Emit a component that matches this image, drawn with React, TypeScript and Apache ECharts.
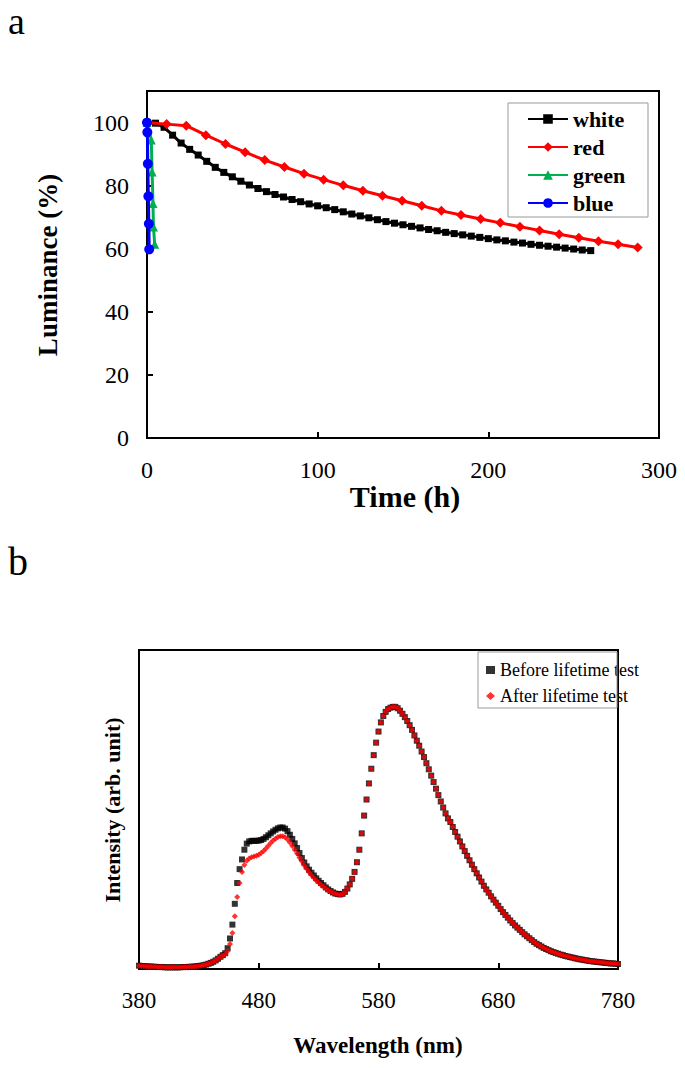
import React, { useEffect, useRef } from "react";
import * as echarts from "echarts";

// ---------- Panel a: luminance decay ----------
const whiteTime = [0, 5, 10, 15, 20, 25, 30, 35, 40, 45, 50, 55, 60, 65, 70, 75, 80, 85, 90, 95, 100, 105, 110, 115, 120, 125, 130, 135, 140, 145, 150, 155, 160, 165, 170, 175, 180, 185, 190, 195, 200, 205, 210, 215, 220, 225, 230, 235, 240, 245, 250, 255, 260];
const whiteLum = [100, 99.8, 98.5, 96, 93.5, 91.5, 89.7, 87.7, 85.8, 84.2, 82.8, 81.4, 80.2, 79.1, 78.1, 77.2, 76.4, 75.6, 74.9, 74.2, 73.6, 73.0, 72.4, 71.7, 71.0, 70.4, 69.8, 69.2, 68.6, 68.1, 67.6, 67.1, 66.6, 66.1, 65.7, 65.2, 64.8, 64.4, 64.0, 63.6, 63.2, 62.8, 62.5, 62.1, 61.8, 61.4, 61.1, 60.8, 60.5, 60.2, 59.9, 59.6, 59.4];
const redTime = [0, 11.5, 23, 34.5, 46, 57.5, 69, 80.5, 92, 103.5, 115, 126.5, 138, 149.5, 161, 172.5, 184, 195.5, 207, 218.5, 230, 241.5, 253, 264.5, 276, 287.5];
const redLum = [100, 99.5, 99.0, 96.0, 93.2, 90.6, 88.1, 85.9, 83.8, 81.9, 80.1, 78.4, 76.8, 75.2, 73.6, 72.0, 70.7, 69.4, 68.2, 67.0, 65.8, 64.6, 63.5, 62.4, 61.4, 60.4];
const greenTime = [0, 2.5, 3, 3.5, 3.8, 4.5];
const greenLum = [100, 94.5, 84.3, 74.3, 66.9, 61.4];
const blueTime = [0, 0.2, 0.5, 0.8, 1.1, 1.3];
const blueLum = [100, 96.9, 86.9, 76.6, 67.9, 59.8];
const seriesNamesA = ["white", "red", "green", "blue"];

// ---------- Panel b: EL spectra ----------
const wlStart = 380;
const wlStep = 2;
const beforeIntensity = [
  0.012, 0.011, 0.010, 0.010, 0.009, 0.009, 0.008, 0.008, 0.007, 0.007,
  0.007, 0.006, 0.006, 0.006, 0.006, 0.006, 0.006, 0.006, 0.007, 0.007,
  0.007, 0.008, 0.008, 0.009, 0.010, 0.011, 0.012, 0.014, 0.016, 0.019,
  0.022, 0.026, 0.031, 0.037, 0.044, 0.05, 0.057, 0.075, 0.11, 0.16,
  0.235, 0.31, 0.36, 0.395, 0.43, 0.452, 0.46, 0.462, 0.462, 0.462,
  0.463, 0.465, 0.469, 0.475, 0.482, 0.489, 0.496, 0.502, 0.507, 0.51,
  0.51, 0.506, 0.497, 0.484, 0.469, 0.453, 0.436, 0.418, 0.4, 0.384,
  0.37, 0.358, 0.347, 0.337, 0.327, 0.318, 0.31, 0.302, 0.294, 0.287,
  0.281, 0.276, 0.272, 0.27, 0.269, 0.271, 0.278, 0.29, 0.305, 0.325,
  0.35, 0.385, 0.43, 0.489, 0.553, 0.611, 0.669, 0.722, 0.771, 0.816,
  0.856, 0.889, 0.912, 0.927, 0.937, 0.942, 0.945, 0.945, 0.94, 0.931,
  0.92, 0.908, 0.894, 0.879, 0.862, 0.842, 0.823, 0.805, 0.784, 0.764,
  0.742, 0.72, 0.697, 0.674, 0.65, 0.627, 0.604, 0.582, 0.561, 0.543,
  0.53, 0.512, 0.494, 0.477, 0.46, 0.442, 0.425, 0.408, 0.392, 0.376,
  0.36, 0.345, 0.33, 0.315, 0.3, 0.287, 0.275, 0.262, 0.25, 0.239,
  0.228, 0.216, 0.205, 0.195, 0.185, 0.175, 0.166, 0.157, 0.149, 0.141,
  0.133, 0.125, 0.118, 0.111, 0.104, 0.097, 0.091, 0.086, 0.081, 0.076,
  0.072, 0.068, 0.064, 0.061, 0.058, 0.055, 0.052, 0.05, 0.047, 0.045,
  0.043, 0.041, 0.039, 0.037, 0.035, 0.034, 0.032, 0.031, 0.029, 0.028,
  0.027, 0.026, 0.025, 0.024, 0.023, 0.022, 0.021, 0.02, 0.02, 0.019, 0.018,
];
// after-test values where they differ from the before-test curve (450–550 nm)
const afterIntensityMid = [
  0.048, 0.053, 0.065, 0.09, 0.13, 0.19, 0.26, 0.31, 0.35, 0.375,
  0.39, 0.398, 0.403, 0.406, 0.408, 0.412, 0.418, 0.425, 0.434, 0.444,
  0.454, 0.463, 0.47, 0.476, 0.479, 0.479, 0.475, 0.467, 0.456, 0.443,
  0.43, 0.416, 0.402, 0.388, 0.374, 0.361, 0.349, 0.339, 0.329, 0.32,
  0.312, 0.304, 0.297, 0.29, 0.284, 0.279, 0.275, 0.271, 0.269, 0.268,
  0.27,
];
const afterIntensity = [
  ...beforeIntensity.slice(0, 35),
  ...afterIntensityMid,
  ...beforeIntensity.slice(86),
];
const wavelengths = beforeIntensity.map((_, i) => wlStart + i * wlStep);
const seriesNamesB = ["Before lifetime test", "After lifetime test"];

const FONT = "'Liberation Serif', 'Times New Roman', serif";

export default function App() {
  const ref = useRef<HTMLDivElement>(null);
  useEffect(() => {
    if (!ref.current) return;
    const chart = echarts.init(ref.current, undefined, { renderer: "svg" });
    const axisLineStyle = { color: "#000", width: 2 };
    const option: any = {
      animation: false,
      backgroundColor: "#fff",
      textStyle: { fontFamily: FONT, color: "#000" },
      grid: [
        { left: 147, top: 91, width: 512, height: 347, show: true, borderColor: "#000", borderWidth: 2, backgroundColor: "transparent" },
        { left: 139, top: 650, width: 479, height: 319, show: true, borderColor: "#000", borderWidth: 2, backgroundColor: "transparent" },
      ],
      xAxis: [
        {
          gridIndex: 0, type: "value", min: 0, max: 300, interval: 100,
          axisLine: { lineStyle: axisLineStyle },
          axisTick: { inside: true, length: 6, lineStyle: axisLineStyle },
          axisLabel: { color: "#000", fontSize: 24, margin: 20, fontFamily: FONT },
          splitLine: { show: false },
        },
        {
          gridIndex: 1, type: "value", min: 380, max: 780, interval: 100,
          axisLine: { lineStyle: axisLineStyle },
          axisTick: { inside: true, length: 6, lineStyle: axisLineStyle },
          axisLabel: { color: "#000", fontSize: 23, margin: 20, fontFamily: FONT },
          splitLine: { show: false },
        },
      ],
      yAxis: [
        {
          gridIndex: 0, type: "value", min: 0, max: 110, interval: 20,
          axisLine: { show: true, lineStyle: axisLineStyle },
          axisTick: { show: true, inside: true, length: 6, lineStyle: axisLineStyle },
          axisLabel: { color: "#000", fontSize: 24, margin: 18, fontFamily: FONT, formatter: (v: number) => (v > 100 ? "" : String(v)) },
          splitLine: { show: false },
        },
        {
          gridIndex: 1, type: "value", min: 0, max: 1.15,
          axisLine: { show: true, lineStyle: axisLineStyle },
          axisTick: { show: false },
          axisLabel: { show: false },
          splitLine: { show: false },
        },
      ],
      legend: [
        {
          data: seriesNamesA, orient: "vertical", left: 508, top: 103,
          padding: [5, 10, 4, 19], itemWidth: 40, itemHeight: 12, itemGap: 6,
          textStyle: { fontFamily: FONT, fontSize: 22, fontWeight: "bold", color: "#000", lineHeight: 22 },
        },
        {
          data: seriesNamesB, orient: "vertical", left: 480, top: 654,
          padding: [6, 6, 6, 6], itemWidth: 9, itemHeight: 8, itemGap: 6,
          textStyle: { fontFamily: FONT, fontSize: 18, color: "#000", lineHeight: 20 },
        },
      ],
      graphic: [
        { type: "text", x: 8, y: 21, style: { text: "a", font: `38px ${FONT}`, fill: "#000", verticalAlign: "middle", lineHeight: 38 } },
        { type: "text", x: 8, y: 561, style: { text: "b", font: `40px ${FONT}`, fill: "#000", verticalAlign: "middle", lineHeight: 40 } },
        { type: "rect", shape: { x: 508, y: 103, width: 140, height: 114 }, style: { fill: "none", stroke: "#999", lineWidth: 1 }, z: 100 },
        { type: "rect", shape: { x: 478, y: 652, width: 139, height: 56 }, style: { fill: "none", stroke: "#999", lineWidth: 1 }, z: 100 },
        { type: "text", x: 48, y: 265, rotation: Math.PI / 2, style: { text: "Luminance (%)", font: `bold 27px ${FONT}`, fill: "#000", align: "center", verticalAlign: "middle" } },
        { type: "text", x: 405, y: 496, style: { text: "Time (h)", font: `bold 30px ${FONT}`, fill: "#000", align: "center", verticalAlign: "middle" } },
        { type: "text", x: 112, y: 810, rotation: Math.PI / 2, style: { text: "Intensity (arb. unit)", font: `bold 22px ${FONT}`, fill: "#000", align: "center", verticalAlign: "middle" } },
        { type: "text", x: 378, y: 1045, style: { text: "Wavelength (nm)", font: `bold 23px ${FONT}`, fill: "#000", align: "center", verticalAlign: "middle" } },
      ],
      series: [
        {
          name: "white", type: "line", xAxisIndex: 0, yAxisIndex: 0,
          data: whiteTime.map((t, i) => [t, whiteLum[i]]),
          symbol: "rect", symbolSize: 7, showSymbol: true,
          lineStyle: { color: "#000", width: 3 }, itemStyle: { color: "#000" }, z: 2,
        },
        {
          name: "red", type: "line", xAxisIndex: 0, yAxisIndex: 0,
          data: redTime.map((t, i) => [t, redLum[i]]),
          symbol: "diamond", symbolSize: 10, showSymbol: true,
          lineStyle: { color: "#ff0000", width: 3 }, itemStyle: { color: "#ff0000" }, z: 3,
        },
        {
          name: "green", type: "line", xAxisIndex: 0, yAxisIndex: 0,
          data: greenTime.map((t, i) => [t, greenLum[i]]),
          symbol: "triangle", symbolSize: 9, showSymbol: true,
          lineStyle: { color: "#00b050", width: 3 }, itemStyle: { color: "#00b050" }, z: 4,
        },
        {
          name: "blue", type: "line", xAxisIndex: 0, yAxisIndex: 0,
          data: blueTime.map((t, i) => [t, blueLum[i]]),
          symbol: "circle", symbolSize: 10, showSymbol: true,
          lineStyle: { color: "#0000ff", width: 3 }, itemStyle: { color: "#0000ff" }, z: 5,
        },
        {
          name: "Before lifetime test", type: "scatter", xAxisIndex: 1, yAxisIndex: 1,
          data: wavelengths.map((w, i) => [w, beforeIntensity[i]]),
          symbol: "rect", symbolSize: 6, itemStyle: { color: "#000" }, z: 2,
        },
        {
          name: "After lifetime test", type: "scatter", xAxisIndex: 1, yAxisIndex: 1,
          data: wavelengths.map((w, i) => [w, afterIntensity[i]]),
          symbol: "diamond", symbolSize: 6, itemStyle: { color: "#ff0000" }, z: 3,
        },
      ],
    };
    chart.setOption(option);
    return () => chart.dispose();
  }, []);
  return (
    <div
      ref={ref}
      style={{ position: "absolute", left: 0, top: 0, width: 685, height: 1068, background: "#fff" }}
    />
  );
}
